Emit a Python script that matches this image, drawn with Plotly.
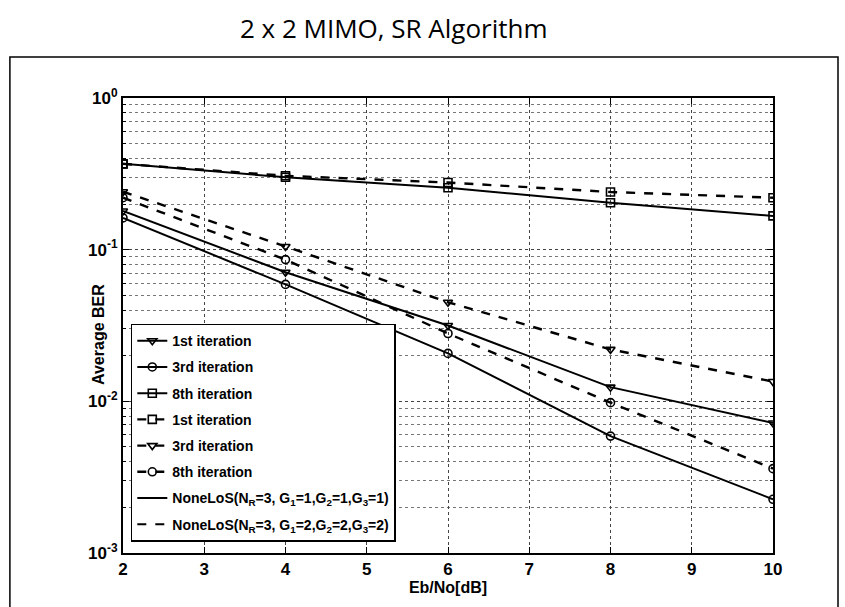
import plotly.graph_objects as go

# Eb/No points (dB)
ebno = [2, 4, 6, 8, 10]

# Average BER, G1=G2=G3=1 (solid)
ber_g1_iter1 = [0.18, 0.071, 0.0316, 0.0124, 0.0072]
ber_g1_iter3 = [0.162, 0.059, 0.0207, 0.0059, 0.00226]
ber_g1_iter8 = [0.368, 0.30, 0.256, 0.204, 0.167]

# Average BER, G1=G2=G3=2 (dashed)
ber_g2_iter1 = [0.368, 0.307, 0.277, 0.24, 0.22]
ber_g2_iter3 = [0.241, 0.105, 0.045, 0.022, 0.0135]
ber_g2_iter8 = [0.22, 0.086, 0.028, 0.0098, 0.0036]

x_ticks = [2, 3, 4, 5, 6, 7, 8, 9, 10]
y_ticks = [1, 0.1, 0.01, 0.001]
y_ticktext = ["10<sup>0</sup>", "10<sup>-1</sup>", "10<sup>-2</sup>", "10<sup>-3</sup>"]
y_minor = [m * d for d in (0.001, 0.01, 0.1) for m in range(2, 10)]

title_text = "2 x 2 MIMO, SR Algorithm"
x_title = "Eb/No[dB]"
y_title = "Average BER"
legend_g1 = "NoneLoS(N<sub>R</sub>=3, G<sub>1</sub>=1,G<sub>2</sub>=1,G<sub>3</sub>=1)"
legend_g2 = "NoneLoS(N<sub>R</sub>=3, G<sub>1</sub>=2,G<sub>2</sub>=2,G<sub>3</sub>=2)"

BOLD_FONT = "Liberation Sans Narrow, Arial Narrow, Liberation Sans, Arial, sans-serif"

fig = go.Figure()

series = [
    ("1st iteration", ber_g1_iter1, "solid", "triangle-down-open"),
    ("3rd iteration", ber_g1_iter3, "solid", "circle-open"),
    ("8th iteration", ber_g1_iter8, "solid", "square-open"),
    ("1st iteration", ber_g2_iter1, "dash", "square-open"),
    ("3rd iteration", ber_g2_iter3, "dash", "triangle-down-open"),
    ("8th iteration", ber_g2_iter8, "dash", "circle-open"),
]

for i, (name, vals, dash, sym) in enumerate(series):
    fig.add_trace(go.Scatter(
        x=ebno, y=vals, name="<b>" + name + "</b>", mode="lines+markers",
        legendgroup="g%d" % i,
        line=dict(color="black", width=2 if dash == "solid" else 2.4, dash=dash),
        marker=dict(symbol=sym, size=8, color="black", line=dict(width=1.6, color="black")),
    ))

for i, (name, dash) in enumerate([(legend_g1, "solid"), (legend_g2, "dash")]):
    fig.add_trace(go.Scatter(
        x=[None], y=[None], name="<b>" + name + "</b>", mode="lines",
        legendgroup="n%d" % i,
        line=dict(color="black", width=2, dash=dash),
    ))

fig.update_layout(
    width=845, height=607,
    margin=dict(l=123, r=72, t=98, b=54),
    paper_bgcolor="white", plot_bgcolor="white",
    title=dict(text=title_text, x=0.466, xanchor="center", y=0.952, yanchor="middle",
               font=dict(family="Open Sans, Noto Sans, sans-serif", size=26, color="black")),
    showlegend=True,
    legend=dict(
        x=0.012, y=0.504, xanchor="left", yanchor="top",
        bgcolor="white", bordercolor="black", borderwidth=1.5,
        font=dict(family=BOLD_FONT, size=14, color="black"),
        tracegroupgap=5, itemwidth=30,
    ),
    font=dict(family=BOLD_FONT, color="black"),
)

fig.update_xaxes(
    range=[2, 10], tickvals=x_ticks, ticktext=["<b>%d</b>" % v for v in x_ticks],
    tickfont=dict(family=BOLD_FONT, size=17, color="black"),
    title=dict(text="<b>" + x_title + "</b>", font=dict(family=BOLD_FONT, size=16, color="black"), standoff=0),
    showline=True, linecolor="black", linewidth=2, mirror="ticks",
    ticks="inside", ticklen=6, tickcolor="black", tickwidth=1,
    showgrid=True, gridcolor="#444", griddash="dot", gridwidth=1,
    zeroline=False,
)

fig.update_yaxes(
    type="log", range=[-3, 0],
    tickvals=y_ticks, ticktext=["<b>" + t + "</b>" for t in y_ticktext],
    tickfont=dict(family=BOLD_FONT, size=17, color="black"),
    showline=True, linecolor="black", linewidth=2, mirror="ticks",
    ticks="inside", ticklen=6, tickcolor="black", tickwidth=1,
    showgrid=True, gridcolor="#444", griddash="dot", gridwidth=1,
    minor=dict(tickvals=y_minor, showgrid=True, gridcolor="#777", griddash="dot", gridwidth=1,
               ticks="inside", ticklen=3, tickcolor="black"),
    zeroline=False,
)

# y-axis title placed next to the tick labels
fig.add_annotation(text="<b>" + y_title + "</b>", xref="paper", yref="paper",
                   x=-0.054, y=0.48, textangle=-90, showarrow=False,
                   font=dict(family=BOLD_FONT, size=16, color="black"))

# outer frame around the figure
fig.add_shape(type="path", xref="paper", yref="paper",
              path="M -0.174 -0.13 L -0.174 1.09 L 1.1 1.09 L 1.1 -0.13",
              line=dict(color="black", width=1.5))

fig.write_html("out.html")
